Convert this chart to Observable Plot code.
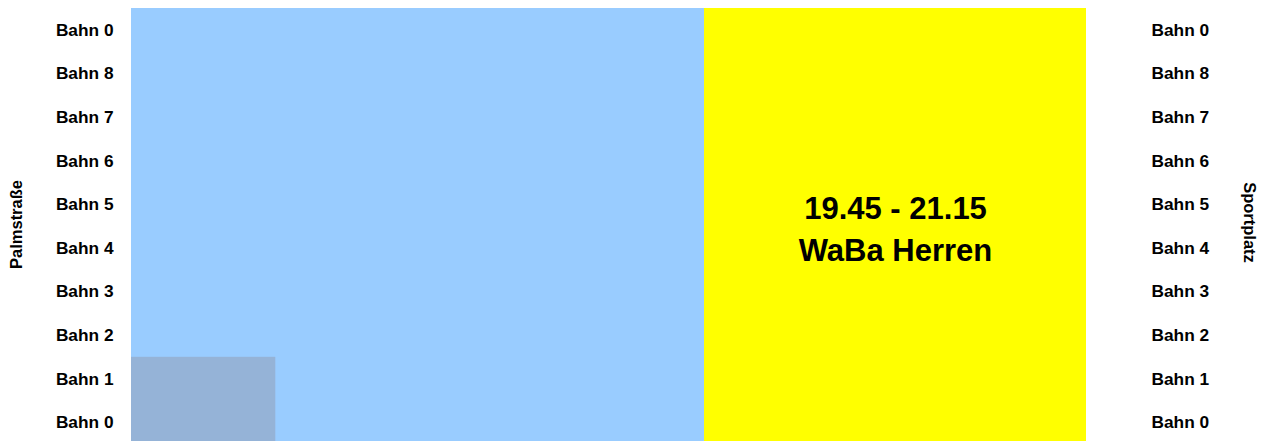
<!DOCTYPE html>
<html>
<head>
<meta charset="utf-8">
<script src="https://cdn.jsdelivr.net/npm/d3@7"></script>
<script src="https://cdn.jsdelivr.net/npm/@observablehq/plot@0.6"></script>
<style>
  html, body { margin: 0; padding: 0; background: #fff; overflow: hidden; }
  #chart { width: 1270px; }
</style>
</head>
<body>
<div id="chart"></div>
<script>
// Lanes, top to bottom
const lanes = ["Bahn 0", "Bahn 8", "Bahn 7", "Bahn 6", "Bahn 5", "Bahn 4", "Bahn 3", "Bahn 2", "Bahn 1", "Bahn 0"];

// Time window (hh:mm)
const dayStart = "17:30";
const dayEnd = "21:15";

// Bookings
const bookingStart = ["17:30", "19:45", "17:30"];
const bookingEnd   = ["19:45", "21:15", "18:04"];
const laneFrom     = [0, 0, 8];   // first lane index (top)
const laneTo       = [10, 10, 10]; // lane index after last lane
const bookingKind  = ["Öffentlich", "WaBa Herren", "Kurs"];
const bookingLabel = ["", "19.45 - 21.15\nWaBa Herren", ""];

// Category colours
const kinds = ["Öffentlich", "WaBa Herren", "Kurs"];
const kindColors = ["#99ccff", "#ffff00", "#95b3d7"];

const toMin = s => { const [h, m] = s.split(":").map(Number); return h * 60 + m; };

const blocks = bookingStart.map((s, i) => ({
  start: toMin(s),
  end: toMin(bookingEnd[i]),
  top: laneFrom[i],
  bottom: laneTo[i],
  kind: bookingKind[i],
  label: bookingLabel[i]
}));

const laneTicks = lanes.map((_, i) => i + 0.5);
const laneFormat = d => lanes[Math.floor(d)];

const chart = Plot.plot({
  width: 1270,
  height: 444,
  marginTop: 8,
  marginBottom: 0,
  marginLeft: 131,
  marginRight: 184,
  style: { fontFamily: "'Liberation Sans', Arial, sans-serif", color: "#000", background: "#fff" },
  x: { domain: [toMin(dayStart), toMin(dayEnd)], axis: null },
  y: { domain: [0, lanes.length], reverse: true, axis: null },
  color: { type: "ordinal", domain: kinds, range: kindColors },
  marks: [
    Plot.rect(blocks, { x1: "start", x2: "end", y1: "top", y2: "bottom", fill: "kind" }),
    Plot.text(blocks.filter(d => d.label), {
      x: d => (d.start + d.end) / 2,
      y: d => (d.top + d.bottom) / 2,
      text: "label",
      fontSize: 31,
      fontWeight: "bold",
      lineHeight: 1.355,
      fill: "#000"
    }),
    Plot.axisY(laneTicks, {
      anchor: "left",
      tickFormat: laneFormat,
      tickSize: 0,
      tickPadding: 18,
      fontSize: 17.3,
      fontWeight: "bold",
      label: null
    }),
    Plot.axisY(laneTicks, {
      anchor: "right",
      tickFormat: laneFormat,
      tickSize: 0,
      tickPadding: 65,
      fontSize: 17.3,
      fontWeight: "bold",
      label: null
    }),
    Plot.text(["Palmstraße"], {
      frameAnchor: "left",
      textAnchor: "middle",
      dx: -115,
      dy: -2,
      rotate: -90,
      fontSize: 16.5,
      fontWeight: "bold",
      fill: "#000"
    }),
    Plot.text(["Sportplatz"], {
      frameAnchor: "right",
      textAnchor: "middle",
      dx: 163,
      dy: -4,
      rotate: 90,
      fontSize: 16.5,
      fontWeight: "bold",
      fill: "#000"
    })
  ]
});

document.getElementById("chart").appendChild(chart);
</script>
</body>
</html>
